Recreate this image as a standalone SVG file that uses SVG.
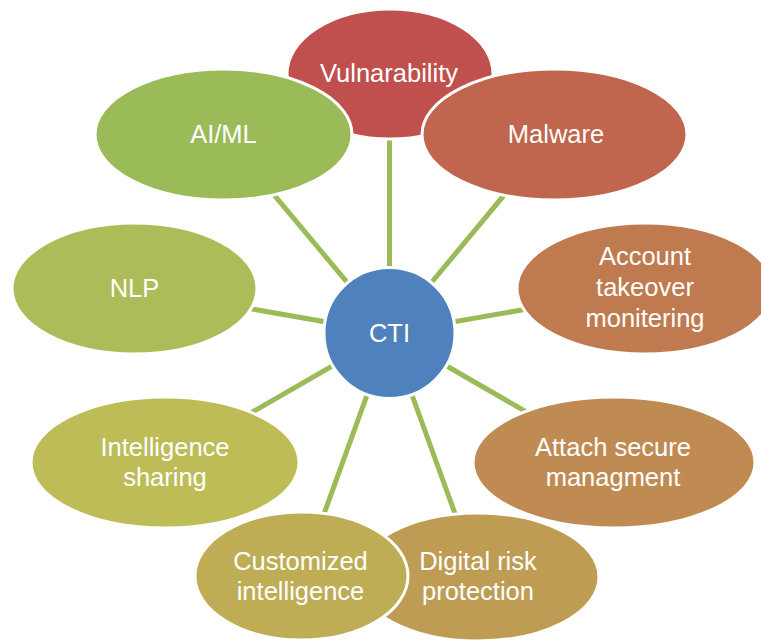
<svg xmlns="http://www.w3.org/2000/svg" width="761" height="641" viewBox="0 0 761 641">
<style>
.n{stroke:#ffffff;stroke-width:3}
.t{font-family:"Liberation Sans",Arial,sans-serif;font-size:25.5px;fill:#ffffff;text-anchor:middle}
.c line{stroke:#9bbb59;stroke-width:5}
</style>
<rect width="761" height="641" fill="#ffffff"/>
<g id="connectors" class="c">
<line x1="389.5" y1="333" x2="389.5" y2="73"/>
<line x1="389.5" y1="333" x2="554.5" y2="134.5"/>
<line x1="389.5" y1="333" x2="645" y2="288.5"/>
<line x1="389.5" y1="333" x2="614" y2="462.5"/>
<line x1="389.5" y1="333" x2="478" y2="577"/>
<line x1="389.5" y1="333" x2="301.5" y2="576"/>
<line x1="389.5" y1="333" x2="165" y2="462.5"/>
<line x1="389.5" y1="333" x2="134.5" y2="288.5"/>
<line x1="389.5" y1="333" x2="223.5" y2="134.5"/>
</g>
<g id="cti">
<circle class="n" cx="389.5" cy="333" r="65.5" fill="#4f81bd"/>
<text class="t" x="389.5" y="342">CTI</text>
</g>
<g id="vulnerability">
<ellipse class="n" cx="390" cy="74" rx="103" ry="65" fill="#c0504d"/>
<text class="t" x="389" y="82">Vulnarability</text>
</g>
<g id="malware">
<ellipse class="n" cx="554.5" cy="134.5" rx="132.5" ry="65.5" fill="#c0654e"/>
<text class="t" x="556" y="143">Malware</text>
</g>
<g id="account">
<ellipse class="n" cx="645" cy="288.5" rx="128" ry="65.5" fill="#bf7a50"/>
<text class="t" x="645" y="265">Account</text>
<text class="t" x="645" y="296">takeover</text>
<text class="t" x="645" y="327">monitering</text>
</g>
<g id="attach">
<ellipse class="n" cx="614" cy="462.5" rx="141" ry="65.5" fill="#bf8b52"/>
<text class="t" x="613" y="455.5">Attach secure</text>
<text class="t" x="613" y="486">managment</text>
</g>
<g id="digital">
<ellipse class="n" cx="478" cy="577" rx="121" ry="64" fill="#bf9c53"/>
<text class="t" x="478" y="570">Digital risk</text>
<text class="t" x="478" y="600">protection</text>
</g>
<g id="customized">
<ellipse class="n" cx="301.5" cy="576" rx="106.5" ry="64" fill="#bfad55"/>
<text class="t" x="300.5" y="570">Customized</text>
<text class="t" x="300.5" y="600">intelligence</text>
</g>
<g id="sharing">
<ellipse class="n" cx="165" cy="462.5" rx="134" ry="65.5" fill="#bdbc57"/>
<text class="t" x="165" y="456">Intelligence</text>
<text class="t" x="165" y="486">sharing</text>
</g>
<g id="nlp">
<ellipse class="n" cx="134.5" cy="288.5" rx="122.5" ry="65.5" fill="#adbc58"/>
<text class="t" x="134.5" y="297">NLP</text>
</g>
<g id="aiml">
<ellipse class="n" cx="223.5" cy="134.5" rx="128.5" ry="65.5" fill="#9bbb59"/>
<text class="t" x="223.5" y="143">AI/ML</text>
</g>
</svg>
